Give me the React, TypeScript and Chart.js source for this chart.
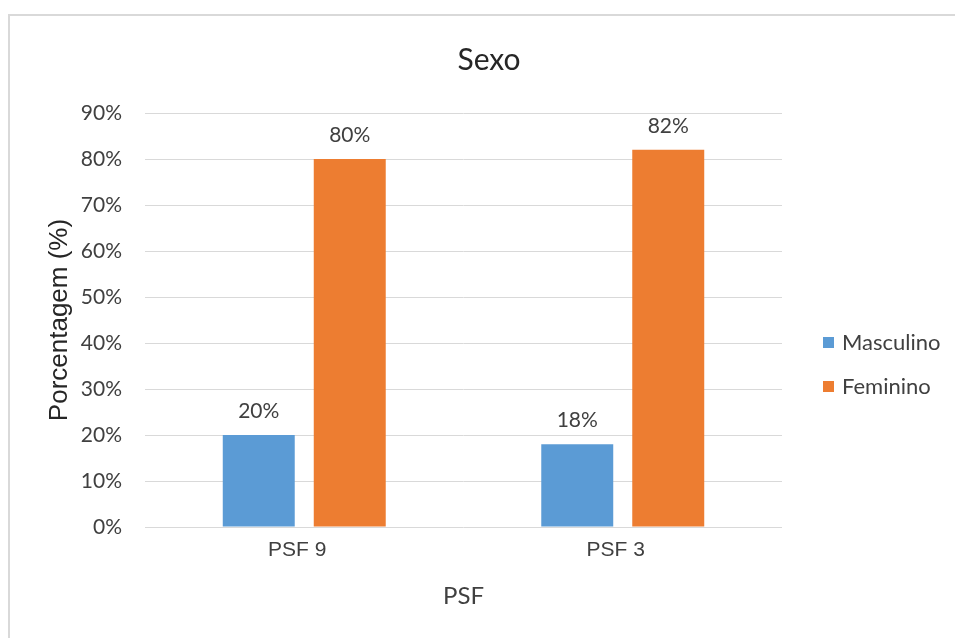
import React, { useEffect, useRef } from "react";
import { Chart, registerables } from "chart.js";

Chart.register(...registerables);

const chartTitle = "Sexo";
const categories = ["PSF 9", "PSF 3"];
const seriesNames = ["Masculino", "Feminino"];
const masculino = [20, 18];
const feminino = [80, 82];
const yMax = 90;
const yStep = 10;
const yAxisTitle = "Porcentagem (%)";
const xAxisTitle = "PSF";

const BLUE = "#5B9BD5";
const ORANGE = "#ED7D31";
const GRID = "#d9d9d9";
const TEXT = "#404040";

const extras = {
  id: "extras",
  afterDraw(chart: any) {
    const ctx = chart.ctx;
    ctx.save();
    // outer border
    ctx.strokeStyle = GRID;
    ctx.lineWidth = 2;
    ctx.strokeRect(9, 15, 960, 700);
    // title
    ctx.fillStyle = "#262626";
    ctx.font = "30px Lato";
    ctx.textAlign = "center";
    ctx.textBaseline = "middle";
    ctx.fillText(chartTitle, 489, 60);
    // data labels
    ctx.font = "21px Lato";
    ctx.fillStyle = TEXT;
    chart.data.datasets.forEach((ds: any, di: number) => {
      const meta = chart.getDatasetMeta(di);
      meta.data.forEach((bar: any, i: number) => {
        ctx.fillText(ds.data[i] + "%", bar.x, bar.y - 24);
      });
    });
    // legend
    const legendY = [343, 387];
    chart.data.datasets.forEach((ds: any, di: number) => {
      const y = legendY[di];
      ctx.fillStyle = ds.backgroundColor;
      ctx.fillRect(823, y - 6, 11, 11);
      ctx.fillStyle = TEXT;
      ctx.textAlign = "left";
      ctx.font = "22px Lato";
      ctx.fillText(ds.label, 842, y);
    });
    ctx.restore();
  },
};

export default function App() {
  const ref = useRef<HTMLCanvasElement>(null);
  useEffect(() => {
    if (!ref.current) return;
    const chart = new Chart(ref.current, {
      type: "bar",
      data: {
        labels: categories,
        datasets: [
          { label: seriesNames[0], data: masculino, backgroundColor: BLUE },
          { label: seriesNames[1], data: feminino, backgroundColor: ORANGE },
        ],
      },
      options: {
        responsive: false,
        animation: false,
        devicePixelRatio: 1,
        layout: { padding: { top: 113, right: 173, bottom: 0, left: 0 } },
        datasets: {
          bar: { categoryPercentage: 0.5714, barPercentage: 0.791 },
        },
        plugins: {
          legend: { display: false },
          title: { display: false },
          tooltip: { enabled: false },
        },
        scales: {
          x: {
            grid: { display: false, drawTicks: false },
            border: { display: false },
            ticks: {
              padding: 11,
              labelOffset: -7,
              color: TEXT,
              font: { family: "'Liberation Sans', Arial", size: 21 },
            },
            title: {
              display: true,
              text: xAxisTitle,
              color: TEXT,
              font: { family: "Lato", size: 24 },
              padding: { top: 0, bottom: 27 },
            },
            afterFit(scale: any) {
              scale.height = 111;
            },
          },
          y: {
            min: 0,
            max: yMax,
            grid: { color: GRID, drawTicks: false, lineWidth: 1 },
            border: { display: false },
            ticks: {
              stepSize: yStep,
              padding: 23,
              color: TEXT,
              font: { family: "Lato", size: 21 },
              callback: (v: any) => v + "%",
            },
            title: {
              display: true,
              text: yAxisTitle,
              color: "#262626",
              font: { family: "'Liberation Sans', Arial", size: 26 },
              padding: { top: 44, bottom: 0 },
            },
            afterFit(scale: any) {
              scale.width = 145;
            },
          },
        },
      },
      plugins: [extras],
    });
    return () => chart.destroy();
  }, []);
  return (
    <div style={{ position: "absolute", left: 0, top: 0, width: 955, height: 638, background: "#fff" }}>
      <canvas ref={ref} width={955} height={638} style={{ width: 955, height: 638, display: "block" }} />
    </div>
  );
}
